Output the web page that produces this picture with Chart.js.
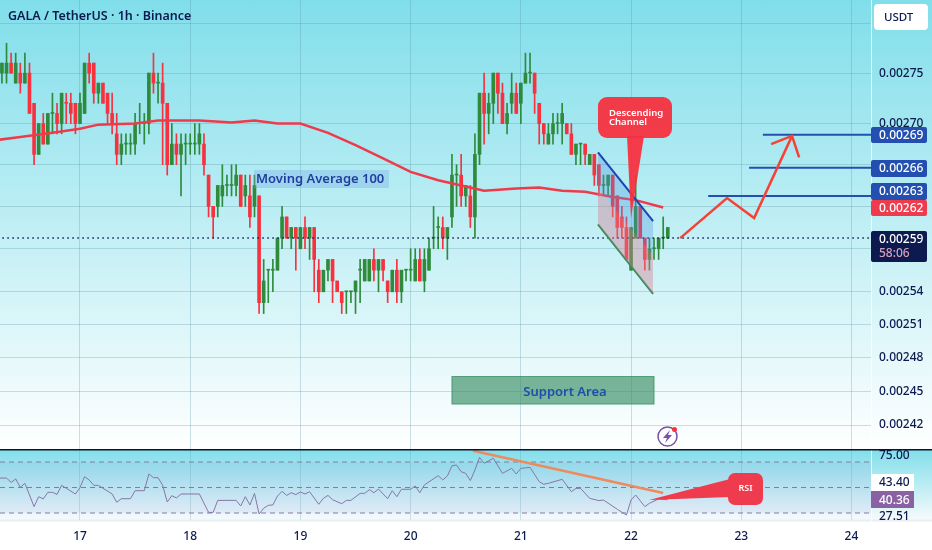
<!DOCTYPE html>
<html lang="en">
<head>
    <meta charset="UTF-8">
    <title>GALA / TetherUS 1h</title>
    <script src="https://cdn.jsdelivr.net/npm/chart.js"></script>
    <style>
        html, body { margin: 0; padding: 0; background: #fff; }
        #wrap { position: relative; width: 932px; height: 550px; overflow: hidden; }
        #pricePane { position: absolute; left: 0; top: 0; width: 932px; height: 449px;
            background: linear-gradient(#80deea, #ffffff); }
        #rsiPane { position: absolute; left: 0; top: 449px; width: 932px; height: 101px;
            background: linear-gradient(#80deea 0px, #f4fafc 70px, #e8eef2 71px, #e8eef2 72px, #ffffff 73px); }
        canvas { position: absolute; left: 0; top: 0; }
    </style>
</head>
<body>
<div id="wrap">
    <div id="pricePane"><canvas id="priceChart" width="932" height="449"></canvas></div>
    <div id="rsiPane"><canvas id="rsiChart" width="932" height="101"></canvas></div>
</div>
<script>
// candles, in units of 0.00001 USDT, first candle is 17 hours before day 17
const firstHour = -17;
const opens = [275,275,276,274,275,274,275,272,267,270,268,271,271,270,272,272,272,270,271,276,276,273,274,273,271,269,267,268,268,268,270,270,270,275,274,274,272,266,268,267,268,268,268,268,268,265,262,262,263,264,264,264,265,263,263,262,263,253,256,256,256,259,261,259,260,258,260,259,260,256,254,256,257,255,254,254,254,254,256,255,255,257,256,257,255,254,256,254,256,256,255,257,255,256,259,260,260,259,261,265,265,263,263,261,267,273,271,272,275,273,270,272,273,272,274,275,275,272,270,268,269,270,270,270,269,267,268,268,266,267,266,264,264,265,263,261,260,256,259,262,259,257,258,258,259,259];
const highs = [276,278,277,277,276,277,276,272,270,271,271,273,272,273,273,273,272,273,276,277,276,274,274,273,273,271,269,269,269,271,272,271,275,277,275,276,272,270,269,269,269,269,270,270,269,265,262,264,266,265,266,266,265,265,265,265,263,257,256,257,259,262,261,260,260,260,261,260,260,257,256,257,257,255,254,254,254,255,257,257,257,258,257,257,255,256,257,256,256,258,258,258,258,259,262,261,261,260,267,266,267,264,264,269,273,275,273,275,275,274,272,275,274,274,277,277,275,272,270,270,271,271,272,270,270,268,268,268,267,267,266,265,265,265,263,262,261,260,265,262,259,259,259,259,261,260];
const lows = [274,274,275,274,273,274,271,266,267,268,268,269,269,269,270,270,269,270,271,274,272,272,272,270,269,266,266,267,267,267,269,268,269,273,272,266,265,266,266,263,266,267,267,267,265,261,259,261,262,263,263,263,262,262,260,261,252,252,253,254,256,258,259,258,256,258,258,257,254,253,254,255,253,254,252,252,253,252,253,255,255,255,254,255,253,254,253,253,255,255,255,255,254,256,258,258,258,257,260,262,262,262,260,259,266,268,269,270,271,270,269,271,271,270,274,274,271,268,268,268,268,269,268,269,267,266,266,266,266,264,263,263,263,261,259,259,257,256,259,259,256,256,257,257,258,259];
const closes = [276,276,275,276,274,275,271,267,270,268,271,271,270,273,272,271,270,272,276,275,273,274,272,271,270,267,268,268,268,270,270,270,275,274,274,272,266,268,267,268,268,268,268,269,266,262,261,264,264,264,264,265,262,264,261,264,253,255,256,256,259,261,259,260,259,260,259,260,257,254,256,257,255,254,253,254,254,255,256,257,257,256,257,256,254,256,254,256,256,256,257,255,257,258,259,260,259,260,265,265,263,264,261,267,273,271,272,275,273,270,271,273,271,274,275,275,273,270,269,269,270,270,271,269,267,268,268,267,267,265,264,264,265,262,260,260,257,260,262,259,257,258,258,259,259,260];
const redDojis = [14];

// moving average 100, read at these hours
const maHours = [-18,-13,-6,0,4,12,17,26,33,38,43,48,54,60,66,72,78,84,88,95,100,105,110,116,121,127];
const maValues = [268.4,268.7,269.1,269.5,269.9,270.0,270.3,270.3,270.1,270.3,270.0,270.0,269.1,267.9,266.6,265.3,264.5,263.9,263.5,263.7,263.8,263.5,263.4,262.9,262.6,261.9];

// rsi, read at these hours
const rsiHours = [-18,-16,-15,-14,-13,-12,-10,-9,-8,-7,-6,-5,-4,-1,0,1,2,3,4,7,8,9,11,12,14,15,16,17,18,19,20,21,22,26,28,29,30,34,35,36,37,38,39,40,41,42,43,44,45,46,47,48,49,50,52,53,54,55,57,58,59,61,62,63,64,65,67,68,69,70,72,73,74,75,78,79,80,81,82,83,84,85,86,87,88,90,92,94,95,96,98,100,101,102,105,107,108,109,111,113,114,117,119,120,121,123,124,126,128];
const rsiValues = [57.4,57.4,54.0,56.7,50.1,53.3,35.0,42.8,41.0,46.2,46.2,44.6,51.7,44.9,49.9,58.5,55.9,51.7,51.7,44.9,38.4,41.2,41.2,47.5,47.5,60.6,57.7,57.7,51.7,38.6,43.6,41.8,44.9,44.9,30.5,30.5,39.9,39.9,35.5,42.8,36.3,45.4,29.2,33.7,36.0,36.3,43.3,47.0,43.8,45.9,44.4,46.5,44.9,46.7,36.8,41.5,43.8,40.4,37.3,39.9,39.9,45.4,45.4,48.3,45.9,48.8,41.2,47.5,42.8,48.6,48.6,51.2,45.9,52.0,59.3,55.9,59.0,67.0,67.6,62.4,61.1,55.4,63.7,73.7,69.0,72.9,61.1,65.0,60.6,65.0,65.8,54.6,52.5,53.3,56.4,46.7,49.3,49.3,41.5,39.7,40.2,32.9,28.4,40.2,44.1,35.0,37.6,41.0,40.36];
const rsiLevels = [70, 50, 30];

// axes
const priceTicks = [280,275,270,266,262,258,254,251,248,245,242];
const labelledTicks = [275,270,254,251,248,245,242];
const rsiTicks = [75, 27.51];
const dayHours = [0,24,48,72,96,120,144,168];
const dayLabels = ['17','18','19','20','21','22','23','24'];

// drawings on the price pane
const channelHours = [112.8, 124.8];
const channelTop = [267.2, 260.6];
const channelMid = [263.7, 257.4];
const channelBottom = [260.3, 253.8];
const targetStarts = [148.7, 145.7, 136.8];
const targetLevels = [268.9, 265.7, 263];
const arrowHours = [130.7, 140.9, 146.8, 155.05];
const arrowPrices = [259, 262.8, 260.9, 268.8];
const headHours = [150.5, 155.05, 156.6];
const headPrices = [268, 268.8, 266.7];
const lastPrice = 259;

// drawing on the rsi pane
const rsiTrendHours = [85.6, 127];
const rsiTrendValues = [78.9, 45.7];

const xMin = -17.42, xMax = 172.25;
const GREEN = '#2e8b3c', RED = '#f7323f', NAVY = '#0c1a50', FONT = '"Noto Sans", sans-serif';

const xy = (xs, ys) => xs.map((x, i) => ({ x: x, y: ys[i] }));
const candleColors = opens.map((o, i) => closes[i] >= o && !redDojis.includes(i) ? GREEN : RED);
const fmtPrice = v => (v / 100000).toFixed(5);

// labels may overhang the pane, keep the plot area full height
function noPadding(axis) {
    axis.paddingTop = 0;
    axis.paddingBottom = 0;
    axis.paddingLeft = 0;
    axis.paddingRight = 0;
}

function lineSet(data, color, width, extra) {
    return Object.assign({ type: 'line', data: data, borderColor: color, borderWidth: width,
        pointRadius: 0, tension: 0, fill: false }, extra);
}

function roundBox(ctx, x, y, w, h, r) {
    ctx.beginPath();
    ctx.roundRect(x, y, w, h, r);
}

function tag(ctx, x, y, w, h, bg, text, color) {
    ctx.fillStyle = bg;
    roundBox(ctx, x, y, w, h, 2);
    ctx.fill();
    ctx.fillStyle = color;
    ctx.textAlign = 'left';
    ctx.textBaseline = 'middle';
    ctx.font = '500 12px ' + FONT;
    ctx.fillText(text, 879, y + h / 2 + 0.5);
}

const priceOverlay = {
    id: 'priceOverlay',
    afterDatasetsDraw(chart) {
        const ctx = chart.ctx, sx = chart.scales.x, sy = chart.scales.y;
        const px = h => sx.getPixelForValue(h), py = v => sy.getPixelForValue(v);
        ctx.save();

        // title
        ctx.fillStyle = NAVY;
        ctx.textAlign = 'left';
        ctx.textBaseline = 'middle';
        ctx.font = '600 12.5px ' + FONT;
        ctx.fillText('GALA / TetherUS · 1h · Binance', 8, 16);

        // moving average label
        ctx.fillStyle = 'rgba(120,170,225,0.35)';
        ctx.fillRect(254, 170, 135, 18);
        ctx.fillStyle = '#1f3fa0';
        ctx.font = '600 13px ' + FONT;
        ctx.fillText('Moving Average 100', 256, 179.5);

        // support area
        const sL = px(81), sR = px(125), sT = py(246.3), sB = py(243.85);
        ctx.fillStyle = 'rgba(56,142,100,0.65)';
        ctx.fillRect(sL, sT, sR - sL, sB - sT);
        ctx.strokeStyle = 'rgba(56,142,100,0.8)';
        ctx.strokeRect(sL, sT, sR - sL, sB - sT);
        ctx.fillStyle = '#1e4fa8';
        ctx.font = '600 13px ' + FONT;
        ctx.textAlign = 'center';
        ctx.fillText('Support Area', 565, 392);

        // descending channel callout
        ctx.fillStyle = 'rgba(247,50,63,0.95)';
        roundBox(ctx, 598, 97, 74, 41, 9);
        ctx.fill();
        ctx.beginPath();
        ctx.moveTo(627, 136);
        ctx.lineTo(644, 136);
        ctx.lineTo(631, 218);
        ctx.closePath();
        ctx.fill();
        ctx.fillStyle = '#fff';
        ctx.font = '600 9.5px ' + FONT;
        ctx.textAlign = 'left';
        ctx.fillText('Descending', 609, 113);
        ctx.fillText('Channel', 609, 122.5);

        // lightning icon
        ctx.strokeStyle = '#7b4fa6';
        ctx.lineWidth = 1.5;
        ctx.beginPath();
        ctx.arc(667.5, 436.5, 9.5, 0, Math.PI * 2);
        ctx.stroke();
        ctx.fillStyle = '#7b4fa6';
        ctx.beginPath();
        ctx.moveTo(670, 430);
        ctx.lineTo(663, 438);
        ctx.lineTo(667, 438);
        ctx.lineTo(665, 443);
        ctx.lineTo(672, 435);
        ctx.lineTo(668, 435);
        ctx.closePath();
        ctx.fill();
        ctx.fillStyle = '#f7323f';
        ctx.beginPath();
        ctx.arc(674.5, 429.5, 2.5, 0, Math.PI * 2);
        ctx.fill();

        // axis tags
        ctx.fillStyle = '#fff';
        roundBox(ctx, 874, 4, 54, 26, 4);
        ctx.fill();
        ctx.fillStyle = NAVY;
        ctx.font = '500 11.5px ' + FONT;
        ctx.fillText('USDT', 884, 17.5);
        tag(ctx, 871, 127, 56, 16, '#2350b0', fmtPrice(269), '#fff');
        tag(ctx, 871, 160, 56, 17, '#2350b0', fmtPrice(266), '#fff');
        tag(ctx, 871, 183, 56, 17, '#2350b0', fmtPrice(263), '#fff');
        tag(ctx, 871, 200, 56, 16, '#ee3b4d', fmtPrice(262), '#fff');
        tag(ctx, 871, 231, 56, 31, NAVY, '', '#fff');
        ctx.fillStyle = '#fff';
        ctx.font = '500 12px ' + FONT;
        ctx.fillText(fmtPrice(lastPrice), 879, 239.5);
        ctx.fillStyle = '#d8a0b8';
        ctx.fillText('58:06', 879, 253.5);
        ctx.restore();
    }
};

const rsiOverlay = {
    id: 'rsiOverlay',
    afterDatasetsDraw(chart) {
        const ctx = chart.ctx, sy = chart.scales.y;
        ctx.save();

        // pane separator
        ctx.fillStyle = '#0c1330';
        ctx.fillRect(0, 0, 932, 1.5);

        // rsi callout
        ctx.fillStyle = '#ee3b4d';
        roundBox(ctx, 728, 24, 35, 32, 7);
        ctx.fill();
        ctx.beginPath();
        ctx.moveTo(730, 30);
        ctx.lineTo(730, 48);
        ctx.lineTo(649, 51);
        ctx.closePath();
        ctx.fill();
        ctx.fillStyle = '#fff';
        ctx.font = '600 9px ' + FONT;
        ctx.textAlign = 'center';
        ctx.textBaseline = 'middle';
        ctx.fillText('RSI', 745.5, 39.5);

        // rsi tags
        ctx.fillStyle = '#fff';
        ctx.fillRect(871, 25, 43, 17);
        ctx.fillStyle = NAVY;
        ctx.font = '500 12px ' + FONT;
        ctx.textAlign = 'left';
        ctx.fillText('43.40', 879, 33.5);
        ctx.fillStyle = '#8a62a3';
        ctx.fillRect(871, 42, 43, 17);
        ctx.fillStyle = '#fff';
        ctx.fillText(rsiValues[rsiValues.length - 1].toFixed(2), 879, sy.getPixelForValue(40.36) + 0.5);
        ctx.restore();
    }
};

new Chart(document.getElementById('priceChart'), {
    type: 'bar',
    plugins: [priceOverlay],
    data: {
        datasets: [
            lineSet(xy(channelHours, channelTop), '#1a44b0', 2, { order: 2, fill: '+1', backgroundColor: 'rgba(80,150,225,0.32)' }),
            lineSet(xy(channelHours, channelMid), 'rgba(0,0,0,0)', 0, { order: 2, fill: '+1', backgroundColor: 'rgba(215,130,150,0.42)' }),
            lineSet(xy(channelHours, channelBottom), '#2e8b57', 2, { order: 2 }),
            lineSet(xy(maHours, maValues), '#ef3a4c', 2.5, { order: 3 }),
            lineSet(xy([firstHour - 1, xMax], [lastPrice, lastPrice]), NAVY, 1.5, { order: 3, borderDash: [1.5, 3.5] }),
            lineSet(xy([targetStarts[0], xMax], [targetLevels[0], targetLevels[0]]), '#2350b0', 2, { order: 1 }),
            lineSet(xy([targetStarts[1], xMax], [targetLevels[1], targetLevels[1]]), '#2350b0', 2, { order: 1 }),
            lineSet(xy([targetStarts[2], xMax], [targetLevels[2], targetLevels[2]]), '#2350b0', 2, { order: 1 }),
            lineSet(xy(arrowHours, arrowPrices), '#f44336', 2.5, { order: 0 }),
            lineSet(xy(headHours, headPrices), '#f44336', 2.5, { order: 0 }),
            {
                data: opens.map((o, i) => ({ x: firstHour + i, y: [o, closes[i]] })),
                backgroundColor: candleColors,
                barThickness: 3,
                minBarLength: 1,
                grouped: false,
                order: 4
            },
            {
                data: opens.map((o, i) => ({ x: firstHour + i, y: [lows[i], highs[i]] })),
                backgroundColor: candleColors,
                barThickness: 1,
                grouped: false,
                order: 5
            }
        ]
    },
    options: {
        responsive: false,
        animation: false,
        devicePixelRatio: 1,
        layout: { padding: 0 },
        plugins: { legend: { display: false }, tooltip: { enabled: false } },
        scales: {
            x: {
                type: 'linear',
                min: xMin,
                max: xMax,
                offset: false,
                grid: { offset: false, color: 'rgba(90,150,165,0.3)', drawTicks: false },
                border: { display: false },
                ticks: { display: false },
                afterBuildTicks: axis => { axis.ticks = dayHours.map(h => ({ value: h })); },
                afterFit: axis => { axis.height = 0; noPadding(axis); }
            },
            y: {
                type: 'logarithmic',
                position: 'right',
                min: 239.9,
                max: 282.4,
                grid: { color: 'rgba(90,150,165,0.3)', drawTicks: false },
                border: { display: true, color: 'rgba(255,255,255,0.8)' },
                ticks: {
                    autoSkip: false,
                    padding: 8,
                    color: NAVY,
                    font: { family: FONT, size: 12, weight: '500' },
                    callback: v => labelledTicks.includes(v) ? fmtPrice(v) : ''
                },
                afterBuildTicks: axis => { axis.ticks = priceTicks.map(v => ({ value: v })); },
                afterFit: axis => { axis.width = 61; noPadding(axis); }
            }
        }
    }
});

new Chart(document.getElementById('rsiChart'), {
    type: 'line',
    plugins: [rsiOverlay],
    data: {
        datasets: [
            lineSet(xy(rsiTrendHours, rsiTrendValues), '#ee8a5c', 2.5, { order: 0 }),
            lineSet(xy(rsiHours, rsiValues), '#8676a6', 1, { order: 1 }),
            lineSet(xy([xMin, xMax], [rsiLevels[0], rsiLevels[0]]), '#8a7a9e', 1, { order: 2, borderDash: [5, 4], fill: '+2', backgroundColor: 'rgba(120,90,200,0.08)' }),
            lineSet(xy([xMin, xMax], [rsiLevels[1], rsiLevels[1]]), '#8a7a9e', 1, { order: 2, borderDash: [5, 4] }),
            lineSet(xy([xMin, xMax], [rsiLevels[2], rsiLevels[2]]), '#8a7a9e', 1, { order: 2, borderDash: [5, 4] })
        ]
    },
    options: {
        responsive: false,
        animation: false,
        devicePixelRatio: 1,
        layout: { padding: 0 },
        plugins: { legend: { display: false }, tooltip: { enabled: false } },
        scales: {
            x: {
                type: 'linear',
                min: xMin,
                max: xMax,
                grid: { color: 'rgba(90,150,165,0.25)', drawTicks: false },
                border: { display: false },
                ticks: {
                    autoSkip: false,
                    maxRotation: 0,
                    padding: 9,
                    color: NAVY,
                    font: { family: FONT, size: 12, weight: '500' },
                    callback: v => dayLabels[dayHours.indexOf(v)]
                },
                afterBuildTicks: axis => { axis.ticks = dayHours.map(h => ({ value: h })); },
                afterFit: axis => { axis.height = 30; noPadding(axis); }
            },
            y: {
                type: 'linear',
                position: 'right',
                min: 24.5,
                max: 80.2,
                grid: { display: false, drawTicks: false },
                border: { display: true, color: 'rgba(255,255,255,0.8)' },
                ticks: {
                    autoSkip: false,
                    padding: 8,
                    color: NAVY,
                    font: { family: FONT, size: 12, weight: '500' },
                    callback: v => v.toFixed(2)
                },
                afterBuildTicks: axis => { axis.ticks = rsiTicks.map(v => ({ value: v })); },
                afterFit: axis => { axis.width = 61; noPadding(axis); }
            }
        }
    }
});
</script>
</body>
</html>
